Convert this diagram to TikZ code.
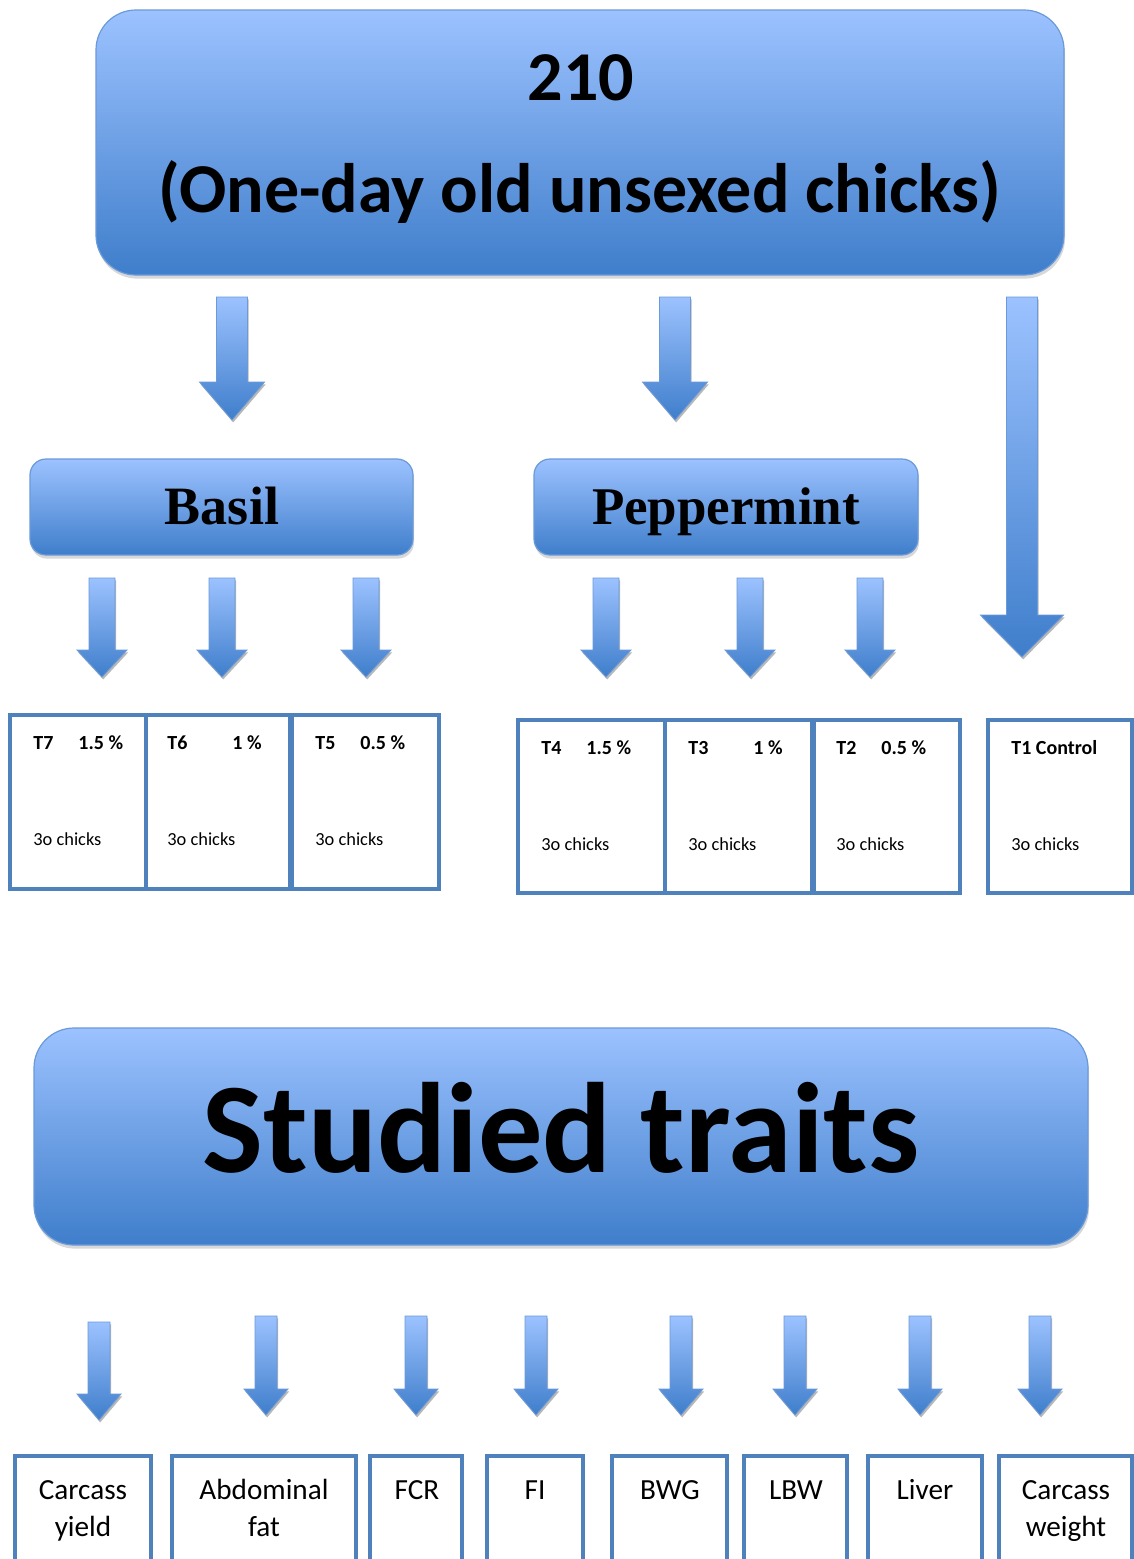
\documentclass[tikz,border=0pt]{standalone}
\usepackage{fontspec}
\setmainfont{Carlito}
\newfontfamily\serifb{Liberation Serif}
\usetikzlibrary{shadows}
\definecolor{gtop}{HTML}{9CC2FF}
\definecolor{gbot}{HTML}{3F7ECB}
\definecolor{rbord}{HTML}{6B9AD9}
\definecolor{bord}{HTML}{4F81BD}
% block arrow: cx, ytop, ytip, shaft width, head width, head length (px)
\newcommand\blockarrow[6]{%
  \fill[black!28,xshift=0.6pt,yshift=-1.2pt]
    ({#1-#4/2},#2) -- ({#1+#4/2},#2) -- ({#1+#4/2},{#3-#6}) -- ({#1+#5/2},{#3-#6})
    -- (#1,#3) -- ({#1-#5/2},{#3-#6}) -- ({#1-#4/2},{#3-#6}) -- cycle;
  \shade[top color=gtop,bottom color=gbot,draw=rbord,line width=0.4pt]
    ({#1-#4/2},#2) -- ({#1+#4/2},#2) -- ({#1+#4/2},{#3-#6}) -- ({#1+#5/2},{#3-#6})
    -- (#1,#3) -- ({#1-#5/2},{#3-#6}) -- ({#1-#4/2},{#3-#6}) -- cycle;}
\begin{document}
\begin{tikzpicture}[x=0.5pt,y=-0.5pt,
  rbox/.style={shade,top color=gtop,bottom color=gbot,draw=rbord,line width=0.6pt,
    inner sep=0pt,drop shadow={shadow xshift=0.5pt,shadow yshift=-1.8pt,fill=black!30}},
  tbox/.style={draw=bord,line width=2.3pt,fill=white,inner sep=0pt},
  tb/.style={anchor=base west,inner sep=0pt,font=\bfseries\fontsize{10}{12}\selectfont},
  tr/.style={anchor=base west,inner sep=0pt,font=\fontsize{9.2}{11}\selectfont},
  trait/.style={anchor=base,inner sep=0pt,font=\fontsize{14.6}{18}\selectfont}]
\useasboundingbox (0,0) rectangle (1134,1559);
\fill[white] (0,0) rectangle (1134,1559);
\clip (0,0) rectangle (1134,1559);

% top box
\node[rbox,rounded corners=20pt,minimum width=484pt,minimum height=132.5pt] (top) at (580,142.5) {};
\node[anchor=base,inner sep=0pt,font=\bfseries\fontsize{35}{40}\selectfont] (n210) at (581,100) {210};
\node[anchor=base,inner sep=0pt,font=\bfseries\fontsize{35}{40}\selectfont] (nsub) at (580,212) {(One-day old unsexed chicks)};

% first row arrows
\blockarrow{232}{297}{420}{31}{65}{38}
\blockarrow{675}{297}{420}{31}{65}{38}
\blockarrow{1022}{297}{657}{31}{83}{42}

% Basil / Peppermint
\node[rbox,rounded corners=8pt,minimum width=191.5pt,minimum height=48pt] (basil) at (221.5,507) {};
\node[anchor=base,inner sep=0pt,font=\serifb\bfseries\fontsize{27}{30}\selectfont] (basiltxt) at (222,524) {Basil};
\node[rbox,rounded corners=8pt,minimum width=192pt,minimum height=48pt] (pep) at (726,507) {};
\node[anchor=base,inner sep=0pt,font=\serifb\bfseries\fontsize{26.5}{30}\selectfont] (peptxt) at (726,524) {Peppermint};

% second row arrows
\foreach \cx in {102,222,366,606,750,870}{\blockarrow{\cx}{578}{677}{26}{50}{27}}

% treatment boxes
\node[tbox,minimum width=68pt,minimum height=87pt] (t7) at (78,802) {};
\node[tbox,minimum width=72pt,minimum height=87pt] (t6) at (218,802) {};
\node[tbox,minimum width=73.5pt,minimum height=87pt] (t5) at (365.5,802) {};
\node[tbox,minimum width=73.5pt,minimum height=86.5pt] (t4) at (591.5,806.5) {};
\node[tbox,minimum width=73.5pt,minimum height=86.5pt] (t3) at (738.5,806.5) {};
\node[tbox,minimum width=73pt,minimum height=86.5pt] (t2) at (887,806.5) {};
\node[tbox,minimum width=72pt,minimum height=86.5pt] (t1) at (1060,806.5) {};

\node[tb] (t7a) at (33,749) {T7};
\node[tb] (t7b) at (78,749) {1.5 \%};
\node[tr] (t7c) at (33,845) {3o chicks};
\node[tb] (t6a) at (167,749) {T6};
\node[tb] (t6b) at (232,749) {1 \%};
\node[tr] (t6c) at (167,845) {3o chicks};
\node[tb] (t5a) at (315,749) {T5};
\node[tb] (t5b) at (360,749) {0.5 \%};
\node[tr] (t5c) at (315,845) {3o chicks};

\node[tb] (t4a) at (541,754) {T4};
\node[tb] (t4b) at (586,754) {1.5 \%};
\node[tr] (t4c) at (541,850) {3o chicks};
\node[tb] (t3a) at (688,754) {T3};
\node[tb] (t3b) at (753,754) {1 \%};
\node[tr] (t3c) at (688,850) {3o chicks};
\node[tb] (t2a) at (836,754) {T2};
\node[tb] (t2b) at (881,754) {0.5 \%};
\node[tr] (t2c) at (836,850) {3o chicks};
\node[tb] (t1a) at (1011,754) {T1 Control};
\node[tr] (t1c) at (1011,850) {3o chicks};

% Studied traits
\node[rbox,rounded corners=20pt,minimum width=527pt,minimum height=108.5pt] (studied) at (561,1136.5) {};
\node[anchor=base,inner sep=0pt,font=\bfseries\fontsize{64.3}{70}\selectfont] (sttxt) at (561,1172) {Studied traits};

% bottom arrows
\blockarrow{99}{1322}{1420}{22}{44}{26}
\foreach \cx in {266,416,536,681,795,920,1040}{\blockarrow{\cx}{1316}{1415}{22}{44}{26}}

% trait boxes
\node[tbox,minimum width=68pt,minimum height=72pt] (cy) at (83,1528) {};
\node[tbox,minimum width=92pt,minimum height=72pt] (af) at (264,1528) {};
\node[tbox,minimum width=46pt,minimum height=72pt] (fcr) at (416,1528) {};
\node[tbox,minimum width=48pt,minimum height=72pt] (fi) at (535,1528) {};
\node[tbox,minimum width=57.5pt,minimum height=72pt] (bwg) at (669.5,1528) {};
\node[tbox,minimum width=51.5pt,minimum height=72pt] (lbw) at (795.5,1528) {};
\node[tbox,minimum width=57pt,minimum height=72pt] (liv) at (925,1528) {};
\node[tbox,minimum width=66.5pt,minimum height=72pt] (cw) at (1065.5,1528) {};

\node[trait] (cy1) at (83,1499) {Carcass};
\node[trait] (cy2) at (83,1536) {yield};
\node[trait] (af1) at (264,1499) {Abdominal};
\node[trait] (af2) at (264,1536) {fat};
\node[trait] (fcr1) at (417,1499) {FCR};
\node[trait] (fi1) at (535,1499) {FI};
\node[trait] (bwg1) at (670,1499) {BWG};
\node[trait] (lbw1) at (796,1499) {LBW};
\node[trait] (liv1) at (925,1499) {Liver};
\node[trait] (cw1) at (1066,1499) {Carcass};
\node[trait] (cw2) at (1066,1536) {weight};
\end{tikzpicture}
\end{document}
